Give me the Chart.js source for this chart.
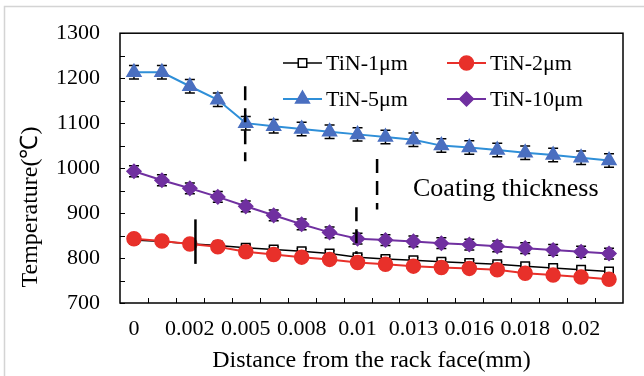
<!DOCTYPE html>
<html>
<head>
<meta charset="utf-8">
<script src="https://cdn.jsdelivr.net/npm/chart.js"></script>
<style>
  body { margin: 0; background: #fff; }
  #wrap { width: 644px; height: 376px; }
</style>
</head>
<body>
<div id="wrap"><canvas id="myChart" width="644" height="376"></canvas></div>
<script>
// distance labels (only every other category is labelled in the original)
const distLabels = ['0', '', '0.002', '', '0.005', '', '0.008', '', '0.01', '',
  '0.013', '', '0.016', '', '0.018', '', '0.02', ''];

// temperatures (°C)
const tin1 = [840, 837, 832, 828, 823, 819, 815, 810, 802, 798, 795, 792, 789, 786, 782, 778, 774, 770];
const tin2 = [843, 838, 831, 825, 814, 808, 802, 797, 790, 786, 782, 779, 777, 774, 766, 762, 758, 753];
const tin5 = [1213, 1213, 1182, 1152, 1100, 1093, 1087, 1081, 1075, 1069, 1063, 1050, 1046, 1040, 1034, 1029, 1023, 1017];
const tin10 = [993, 973, 955, 936, 915, 895, 875, 857, 843, 840, 837, 833, 830, 826, 822, 818, 814, 810];

// error bar half widths
const err1 = [6, 6, 6, 6, 6, 6, 6, 6, 6, 6, 6, 6, 6, 6, 6, 6, 6, 6];
const err2 = [6, 6, 6, 6, 6, 6, 6, 6, 6, 6, 6, 6, 6, 6, 6, 6, 6, 6];
const err5 = [15, 15, 15, 15, 15, 15, 15, 15, 15, 15, 15, 15, 15, 15, 15, 15, 15, 15];
const err10 = [12, 12, 12, 12, 12, 12, 12, 12, 12, 12, 12, 12, 12, 12, 12, 12, 12, 12];

const yMin = 700, yMax = 1300, yStep = 100;

// "coating thickness" guide lines: category position + temperature span
const guides = [
  { at: 3.98, from: 1182, to: 1015, dash: [14, 8] },
  { at: 8.7, from: 1020, to: 908, dash: [14, 8] },
  { at: 7.96, from: 913, to: 809, dash: [14, 8] },
  { at: 2.2, from: 886, to: 787, dash: [] }
];

const FONT = '"Liberation Serif", "Times New Roman", serif';

const series = [
  { label: 'TiN-1μm', data: tin1, err: err1, line: '#000000', fill: '#ffffff', edge: '#000000', style: 'rect', r: 6, order: 3, lw: 1.5 },
  { label: 'TiN-2μm', data: tin2, err: err2, line: '#e8302a', fill: '#e8302a', edge: '#e8302a', style: 'circle', r: 7, order: 2, lw: 2 },
  { label: 'TiN-5μm', data: tin5, err: err5, line: '#2f8fd8', fill: '#4a6fc0', edge: '#4a6fc0', style: 'triangle', r: 8, order: 1, lw: 2 },
  { label: 'TiN-10μm', data: tin10, err: err10, line: '#7030a0', fill: '#7030a0', edge: '#7030a0', style: 'rectRot', r: 7, order: 0, lw: 2 }
];

const extras = {
  id: 'extras',
  beforeDatasetsDraw(chart) {
    const ctx = chart.ctx;
    const y = chart.scales.y;
    // error bars
    ctx.save();
    ctx.strokeStyle = '#000';
    ctx.lineWidth = 1.5;
    series.forEach(function (s, di) {
      const meta = chart.getDatasetMeta(di);
      meta.data.forEach(function (pt, i) {
        const top = y.getPixelForValue(s.data[i] + s.err[i]);
        const bot = y.getPixelForValue(s.data[i] - s.err[i]);
        ctx.beginPath();
        ctx.moveTo(pt.x, top); ctx.lineTo(pt.x, bot);
        ctx.moveTo(pt.x - 5, top); ctx.lineTo(pt.x + 5, top);
        ctx.moveTo(pt.x - 5, bot); ctx.lineTo(pt.x + 5, bot);
        ctx.stroke();
      });
    });
    ctx.restore();
  },
  afterDraw(chart) {
    const ctx = chart.ctx;
    const a = chart.chartArea;
    const x = chart.scales.x, y = chart.scales.y;
    ctx.save();

    // outer light frame
    ctx.strokeStyle = '#d4d4d4';
    ctx.lineWidth = 1.5;
    ctx.beginPath();
    ctx.moveTo(4.5, 376); ctx.lineTo(4.5, 6.5); ctx.lineTo(644, 6.5);
    ctx.stroke();

    // plot box
    ctx.strokeStyle = '#000';
    ctx.lineWidth = 1.5;
    ctx.strokeRect(a.left, a.top, a.right - a.left, a.bottom - a.top);

    // inner ticks
    ctx.lineWidth = 1;
    ctx.beginPath();
    for (let v = yMin; v <= yMax; v += yStep / 2) {
      const py = Math.round(y.getPixelForValue(v)) + 0.5;
      ctx.moveTo(a.left, py); ctx.lineTo(a.left + 5, py);
    }
    for (let i = 0; i < distLabels.length - 1; i++) {
      const px = Math.round(x.getPixelForValue(i + 0.5)) + 0.5;
      ctx.moveTo(px, a.bottom); ctx.lineTo(px, a.bottom - 5);
    }
    ctx.stroke();

    // guide lines
    ctx.lineWidth = 2.5;
    guides.forEach(function (g) {
      ctx.setLineDash(g.dash);
      const px = x.getPixelForValue(g.at);
      ctx.beginPath();
      ctx.moveTo(px, y.getPixelForValue(g.from));
      ctx.lineTo(px, y.getPixelForValue(g.to));
      ctx.stroke();
    });
    ctx.setLineDash([]);

    // annotation text
    ctx.fillStyle = '#000';
    ctx.font = '26px ' + FONT;
    ctx.textAlign = 'left';
    ctx.textBaseline = 'middle';
    ctx.fillText('Coating thickness', 413, 189);

    // legend (two columns inside the plot)
    const cols = [283, 447];
    const rows = [63, 99];
    ctx.font = '22px ' + FONT;
    series.forEach(function (s, i) {
      const lx = cols[i % 2], ly = rows[Math.floor(i / 2)];
      ctx.strokeStyle = s.line;
      ctx.lineWidth = s.lw;
      ctx.beginPath();
      ctx.moveTo(lx, ly); ctx.lineTo(lx + 39, ly);
      ctx.stroke();
      ctx.fillStyle = s.fill;
      ctx.strokeStyle = s.edge;
      ctx.lineWidth = 1.5;
      Chart.helpers.drawPoint(ctx, { pointStyle: s.style, radius: s.r, rotation: 0, borderWidth: 1.5 }, lx + 19.5, ly);
      ctx.fillStyle = '#000';
      ctx.fillText(s.label, lx + 43, ly + 1);
    });

    // axis titles
    ctx.font = '24px ' + FONT;
    ctx.textAlign = 'center';
    ctx.fillText('Distance from the rack face(mm)', (a.left + a.right) / 2, 361);
    ctx.translate(31, 207);
    ctx.rotate(-Math.PI / 2);
    ctx.fillText('Temperature(℃)', 0, 0);
    ctx.restore();
  }
};

const datasets = series.map(function (s) {
  return {
    label: s.label,
    data: s.data,
    order: s.order,
    borderColor: s.line,
    borderWidth: s.lw,
    backgroundColor: s.fill,
    pointBackgroundColor: s.fill,
    pointBorderColor: s.edge,
    pointBorderWidth: 1.5,
    pointStyle: s.style,
    pointRadius: s.r,
    pointHoverRadius: s.r,
    tension: 0,
    fill: false
  };
});

const config = {
  type: 'line',
  data: { labels: distLabels, datasets: datasets },
  options: {
    responsive: false,
    animation: false,
    events: [],
    layout: { padding: { left: 0, top: 29, right: 21, bottom: 0 } },
    plugins: { legend: { display: false }, tooltip: { enabled: false } },
    scales: {
      x: {
        offset: true,
        grid: { display: false, drawTicks: false },
        border: { display: false },
        ticks: {
          autoSkip: false, maxRotation: 0, padding: 13,
          color: '#000', font: { family: FONT, size: 22 }
        },
        afterFit: function (scale) { scale.height = 73; }
      },
      y: {
        min: yMin, max: yMax,
        grid: { display: false, drawTicks: false },
        border: { display: false },
        ticks: {
          stepSize: yStep, padding: 20,
          color: '#000', font: { family: FONT, size: 22 },
          callback: function (v) { return String(v); }
        },
        afterFit: function (scale) { scale.width = 120; }
      }
    }
  },
  plugins: [extras]
};

new Chart(document.getElementById('myChart'), config);
</script>
</body>
</html>
